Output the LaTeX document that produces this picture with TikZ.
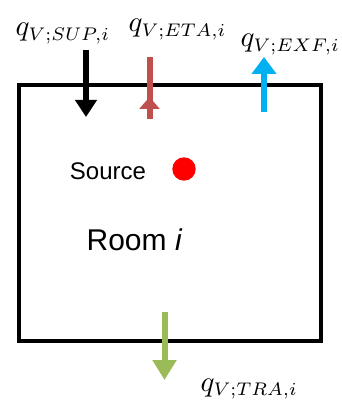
\documentclass[tikz,border=0pt]{standalone}
\usepackage{fontspec}
\usepackage{graphicx}
\setsansfont{Liberation Sans}
\usetikzlibrary{arrows.meta}
\definecolor{redarrow}{RGB}{192,80,77}
\definecolor{bluearrow}{RGB}{0,176,240}
\definecolor{greenarrow}{RGB}{155,187,89}
\definecolor{dotred}{RGB}{255,0,0}
\newcommand{\qflow}[1]{$q_{\scalebox{0.9}{$\scriptstyle V;#1,i$}}$}
\begin{document}
\begin{tikzpicture}[x=1pt,y=-1pt,
  flow/.style={line width=6pt},
  qlabel/.style={anchor=base west, inner sep=0pt, scale=2.9},
  roombox/.style={draw, line width=4pt, minimum width=301.5pt, minimum height=256pt, inner sep=0pt},
]
\useasboundingbox (0,0) rectangle (341,403);
\node[roombox] (room) at (169.75,213) {};
% flows
\draw[flow,-{Triangle[width=21pt,length=17pt]}] (86,50) -- (86,117);
\draw[flow,redarrow] (149.5,57) -- (149.5,119);
\draw[flow,redarrow,-{Triangle[width=20pt,length=12pt]}] (149.5,112) -- (149.5,97);
\draw[flow,bluearrow,-{Triangle[width=24pt,length=17pt]}] (264,112) -- (264,57);
\draw[flow,greenarrow,-{Triangle[width=23pt,length=20pt]}] (164.5,312) -- (164.5,380);
% labels
\node[qlabel] (sup) at (15,36) {\qflow{SUP}};
\node[qlabel] (eta) at (128,32) {\qflow{ETA}};
\node[qlabel] (exf) at (240,47) {\qflow{EXF}};
\node[qlabel] (tra) at (200,391) {\qflow{TRA}};
% interior
\node[circle, fill=dotred, minimum size=23.4pt, inner sep=0pt] (dot) at (184,169) {};
\node[font=\sffamily\fontsize{24}{28}\selectfont, anchor=base, inner sep=0pt] (source) at (108,179) {Source};
\node[font=\sffamily\fontsize{30}{34}\selectfont, anchor=base, inner sep=0pt] (roomlabel) at (134.5,250) {Room \textit{i}};
\end{tikzpicture}
\end{document}
